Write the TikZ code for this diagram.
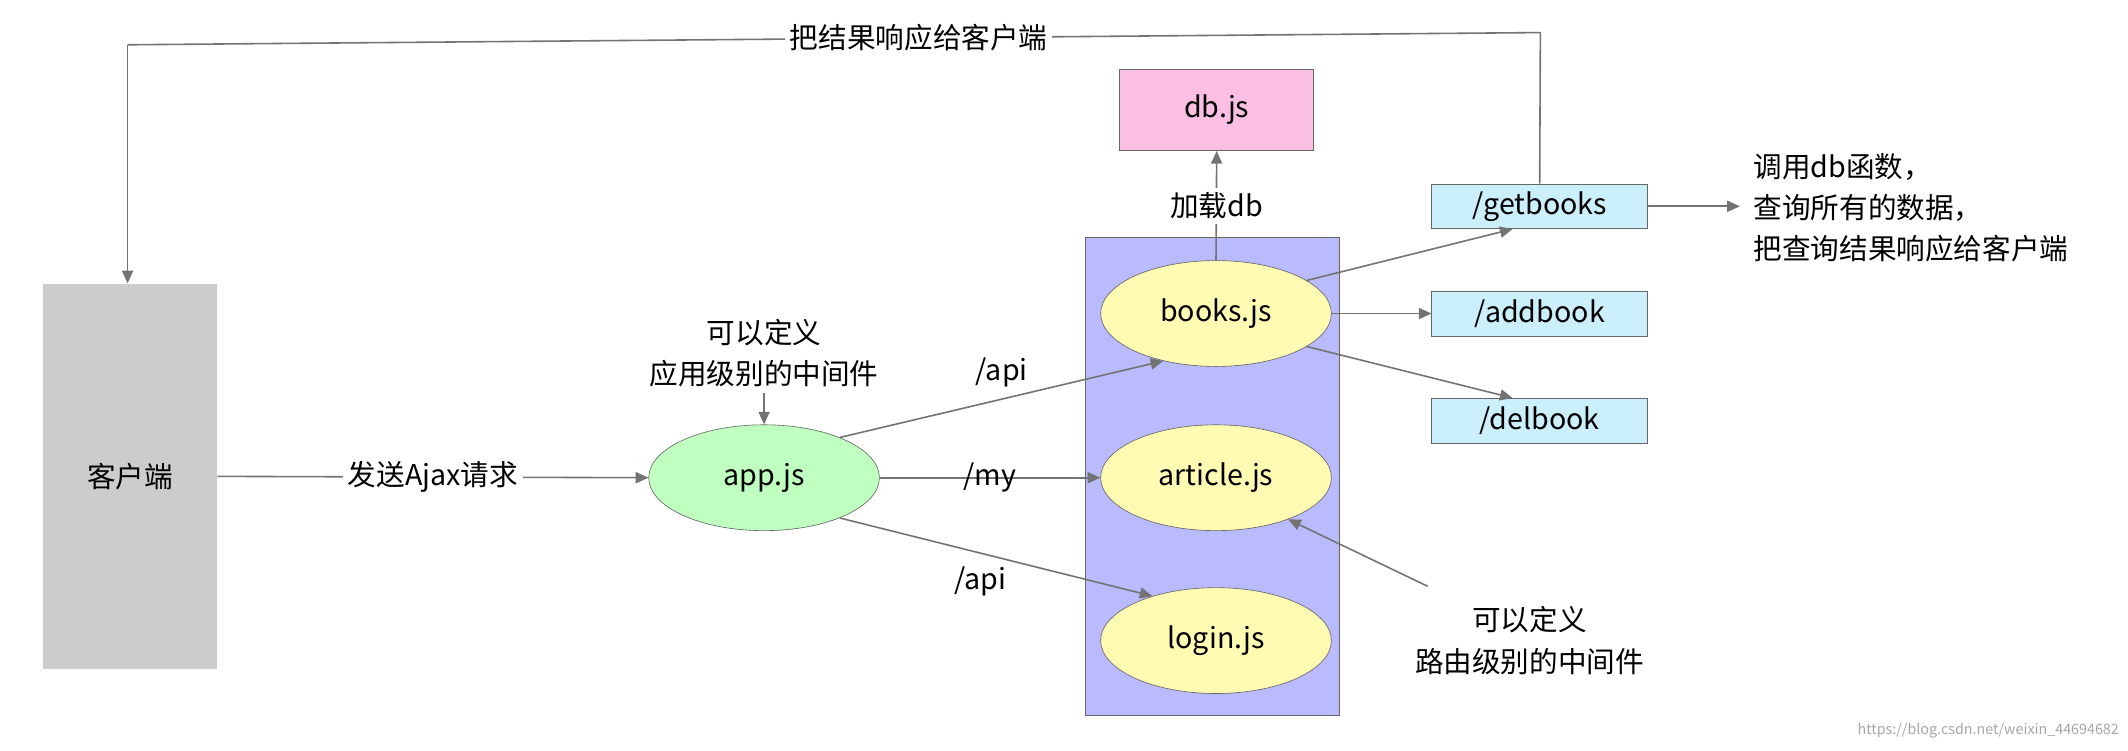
\documentclass[tikz,border=0pt]{standalone}
\usepackage{fontspec}
\setmainfont{Noto Sans CJK SC}
\usetikzlibrary{arrows.meta,shapes.geometric}
\begin{document}
\begin{tikzpicture}[x=0.03cm,y=-0.03cm,font=\fontsize{18}{26}\selectfont,
 ar/.style={draw=gray!90!black,line width=1pt,-{Triangle[length=8pt,width=7pt]}},
 ln/.style={draw=gray!90!black,line width=1pt},
 ell/.style={ellipse,draw=gray!80!black,minimum width=170*0.03cm,minimum height=78*0.03cm,inner sep=0pt},
 box/.style={rectangle,draw=gray!80!black,inner sep=0pt},
 lbl/.style={fill=white,inner sep=3pt,align=center}]
\useasboundingbox (0,0) rectangle (1568,553);
\node[box,fill=black!20,draw=none,minimum width=128*0.03cm,minimum height=284*0.03cm] (client) at (96,351) {客户端};
\node[ell,fill=green!25] (app) at (563,352) {app.js};
\node[box,fill=blue!27,minimum width=187*0.03cm,minimum height=352*0.03cm] (router) at (893.5,351) {};
\node[ell,fill=yellow!30] (books) at (896,231) {books.js};
\node[ell,fill=yellow!30] (article) at (896,352) {article.js};
\node[ell,fill=yellow!30] (login) at (896,472) {login.js};
\node[box,fill=magenta!25,minimum width=143*0.03cm,minimum height=60*0.03cm] (db) at (896.5,81) {db.js};
\node[box,fill=cyan!20,minimum width=159*0.03cm,minimum height=33*0.03cm] (get) at (1134.5,152) {/getbooks};
\node[box,fill=cyan!20,minimum width=159*0.03cm,minimum height=33*0.03cm] (add) at (1134.5,231) {/addbook};
\node[box,fill=cyan!20,minimum width=159*0.03cm,minimum height=33*0.03cm] (del) at (1134.5,310) {/delbook};
\node[align=left,anchor=west] (desc) at (1288,153) {调用db函数，\\查询所有的数据，\\把查询结果响应给客户端};
\node[align=center] (appmw) at (563,260) {可以定义\\应用级别的中间件};
\node[align=center] (routemw) at (1127,472) {可以定义\\路由级别的中间件};
\coordinate (descL) at (1282,152);
\coordinate (tr) at (1135,24);
\coordinate (tl) at (94,33);
\coordinate (rmw) at (1052,432);
\draw[ar] (client.east) -- node[lbl]{发送Ajax请求} (app.west);
\draw[ar] (appmw) -- (app.north);
\draw[ar] (app.28) -- node[lbl,fill=none,above=4pt,pos=0.5]{/api} (books.222);
\draw[ar] (app.east) -- node[lbl,fill=none]{/my} (article.west);
\draw[ar] (app.-28) -- node[lbl,fill=none,below left=0pt,pos=0.55]{/api} (login.145);
\draw[ar] (books.north) -- node[lbl,pos=0.5]{加载db} (db.south);
\draw[ar] (books.20) -- (get.220);
\draw[ar] (books.east) -- (add.west);
\draw[ar] (books.-20) -- (del.140);
\draw[ar] (get.east) -- (descL);
\draw[ar] (rmw) -- (article.-30);
\draw[ln] (get.north) -- (tr) -- node[lbl,pos=0.44]{把结果响应给客户端} (tl);
\draw[ar] (tl) -- (client.north -| tl);
\node[text=gray!70,font=\fontsize{9}{10}\selectfont] (wm) at (1465,538) {https://blog.csdn.net/weixin\_44694682};
\end{tikzpicture}
\end{document}
